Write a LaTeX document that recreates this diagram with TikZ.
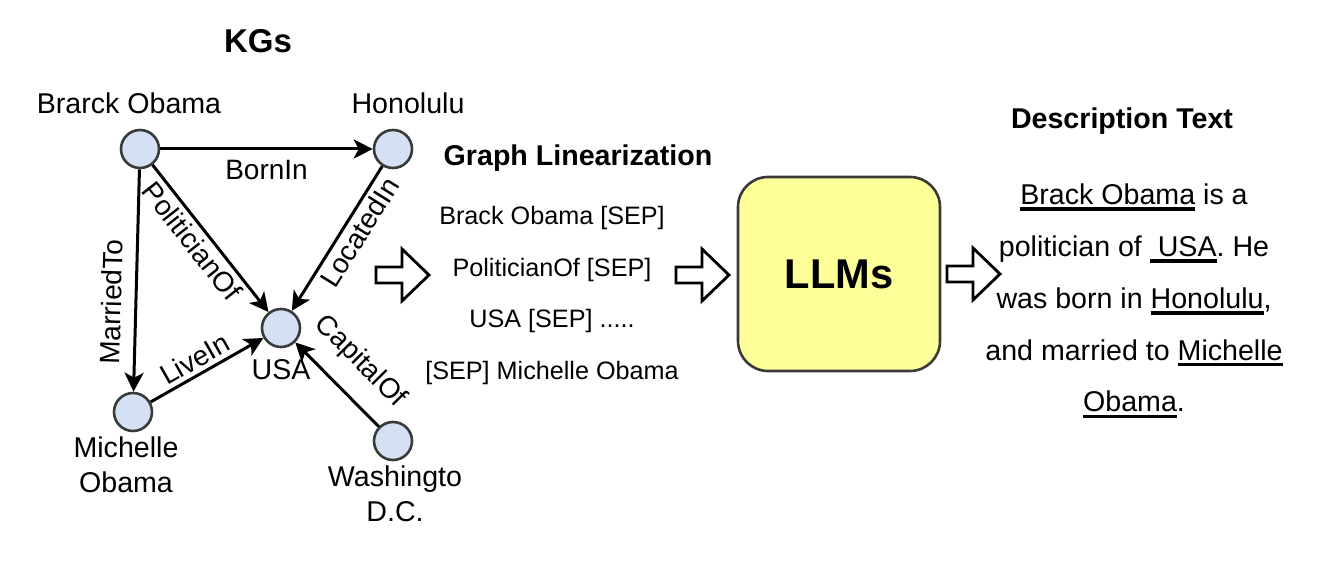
\documentclass[tikz,border=0pt]{standalone}
\usepackage{fontspec}
\setmainfont{Liberation Sans}
\usetikzlibrary{arrows.meta}

\newcommand{\uword}[1]{\leavevmode\setbox0\hbox{#1}\vtop{\copy0\kern1.2pt\hrule height 1.8pt width \wd0}}

\definecolor{kgblue}{HTML}{D4E1F5}
\definecolor{kgline}{HTML}{3A3A3A}
\definecolor{llmyellow}{HTML}{FFFF99}

\begin{document}
\frenchspacing
\begin{tikzpicture}[x=0.5pt,y=-0.5pt,
        ent/.style={circle,draw=kgline,fill=kgblue,line width=1.3pt,minimum size=19pt,inner sep=0pt},
        rel/.style={-{Stealth[length=9.5pt,width=9.5pt,inset=2.5pt]},line width=1.5pt},
        rellabel/.style={sloped,font=\fontsize{14}{16}\selectfont,inner sep=2pt},
        hollow/.style={draw,line width=1.4pt,fill=white,line join=miter},
        title/.style={font=\bfseries\fontsize{14.3}{16}\selectfont},
        every label/.style={font=\fontsize{14.3}{17.5}\selectfont,align=center}
    ]
    \useasboundingbox (0,0) rectangle (1320,566);

    % knowledge graph
    \node[title,font=\bfseries\fontsize{16.5}{18}\selectfont] (kgs) at (258,41) {KGs};
    \node[ent,label={[xshift=-5.5pt,label distance=4pt]above:Brarck Obama}] (obama) at (140,149) {};
    \node[ent,label={[xshift=7.5pt,label distance=4pt]above:Honolulu}] (honolulu) at (393,149) {};
    \node[ent,label={[label distance=2pt]below:USA}] (usa) at (281,328) {};
    \node[ent,label={[xshift=-3.5pt,label distance=-1.5pt]below:Michelle\\Obama}] (michelle) at (133,412) {};
    \node[ent,label={[xshift=1pt,label distance=-1.5pt]below:Washingto\\D.C.}] (washington) at (393,441) {};

    \draw[rel] (obama) -- node[rellabel,below=3pt] {BornIn} (honolulu);
    \draw[rel] (obama) -- node[rellabel,pos=0.6,above=4.5pt] {MarriedTo} (michelle);
    \draw[rel] (obama) -- node[rellabel,pos=0.45,below] {PoliticianOf} (usa);
    \draw[rel] (honolulu) -- node[rellabel,pos=0.4,below] {LocatedIn} (usa);
    \draw[rel] (michelle) -- node[rellabel,pos=0.46,above] {LiveIn} (usa);
    \draw[rel] (washington) -- node[rellabel,pos=0.5,above=7pt] {CapitalOf} (usa);

    % linearization
    \node[title] (lintitle) at (578,158) {Graph Linearization};
    \node[align=center,font=\fontsize{12.6}{25.8}\selectfont] (lin) at (552,295.5)
        {Brack Obama [SEP]\\PoliticianOf [SEP]\\USA [SEP] .....\\{}[SEP] Michelle Obama};

    % model
    \node[draw=kgline,fill=llmyellow,line width=1.3pt,rounded corners=15pt,
        minimum width=101pt,minimum height=97pt,font=\bfseries\fontsize{20.8}{22}\selectfont] (llm) at (839,274) {LLMs};

    % output text
    \node[title] (desctitle) at (1122,121) {Description Text};
    \node[align=center,font=\fontsize{14.3}{25.9}\selectfont] (desc) at (1134,301)
        {\uword{Brack Obama} is a\\politician of \uword{\ USA}. He\\was born in \uword{Honolulu},\\and married to \uword{Michelle}\\\uword{Obama}.};

    % hollow arrows between the stages
    \foreach \ax/\ay in {376/275, 676/275, 947/274}
        \draw[hollow] (\ax,\ay-8) -- (\ax+26,\ay-8) -- (\ax+26,\ay-26) -- (\ax+53,\ay)
            -- (\ax+26,\ay+26) -- (\ax+26,\ay+8) -- (\ax,\ay+8) -- cycle;
\end{tikzpicture}
\end{document}
